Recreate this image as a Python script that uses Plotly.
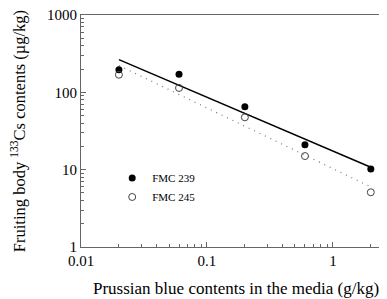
import numpy as np
import plotly.graph_objects as go

pb_contents = [0.02, 0.06, 0.2, 0.6, 2.0]
fmc239 = [196, 171, 65, 21, 10.2]
fmc245 = [169, 114, 47.5, 15, 5.1]
x_ticks = [0.01, 0.1, 1]
x_tick_labels = ["0.01", "0.1", "1"]
y_ticks = [1, 10, 100, 1000]
y_tick_labels = ["1", "10", "100", "1000"]
x_title = "Prussian blue contents in the media (g/kg)"
y_title = "Fruiting body <sup>133</sup>Cs contents (µg/kg)"

FONT = "Liberation Serif, Times New Roman, serif"


def fit_line(x, y):
    lx, ly = np.log10(x), np.log10(y)
    k, b = np.polyfit(lx, ly, 1)
    xe = np.array([min(x), max(x)])
    return xe, 10 ** (k * np.log10(xe) + b)


def minor_vals(decades, upper):
    return [m * d for d in decades for m in range(2, 10) if m * d <= upper]


fig = go.Figure()
xl, yl = fit_line(pb_contents, fmc239)
fig.add_trace(go.Scatter(x=xl, y=yl, mode="lines", line=dict(color="black", width=1.5),
                         showlegend=False, hoverinfo="skip"))
xl2, yl2 = fit_line(pb_contents, fmc245)
fig.add_trace(go.Scatter(x=xl2, y=yl2, mode="lines", line=dict(color="#777", width=1.2, dash="1px,5px"),
                         showlegend=False, hoverinfo="skip"))
fig.add_trace(go.Scatter(x=pb_contents, y=fmc239, mode="markers", name="FMC 239",
                         marker=dict(symbol="circle", size=7, color="black")))
fig.add_trace(go.Scatter(x=pb_contents, y=fmc245, mode="markers", name="FMC 245",
                         marker=dict(symbol="circle-open", size=7, color="#444", line=dict(width=1))))

axis_common = dict(
    type="log", showgrid=False, zeroline=False, showline=True, linecolor="#666", linewidth=1,
    mirror=True, ticks="inside", ticklen=5, tickcolor="#666", ticklabeloverflow="allow",
    tickfont=dict(family=FONT, size=15, color="black"), automargin=False,
)

fig.update_xaxes(**axis_common, range=[-2, np.log10(3)], tickvals=x_ticks, ticktext=x_tick_labels,
                 minor=dict(ticks="inside", ticklen=3, tickcolor="#666", showgrid=False,
                            tickvals=minor_vals([0.01, 0.1, 1], 3)))
fig.update_yaxes(**axis_common, range=[0, 3.0001], tickvals=y_ticks, ticktext=y_tick_labels,
                 minor=dict(ticks="inside", ticklen=3, tickcolor="#666", showgrid=False,
                            tickvals=minor_vals([1, 10, 100], 1000)),
                 title=dict(text=y_title,
                            font=dict(family=FONT, size=16.5, color="black"), standoff=24))

fig.add_annotation(text=x_title, xref="paper", yref="paper", x=0.497, y=-0.18,
                   xanchor="center", yanchor="middle", showarrow=False,
                   font=dict(family=FONT, size=17, color="black"))

fig.update_layout(
    width=387, height=299,
    margin=dict(l=73, r=2, t=7, b=60),
    paper_bgcolor="white", plot_bgcolor="white",
    legend=dict(x=0.1, y=0.36, xanchor="left", yanchor="top", bgcolor="rgba(0,0,0,0)",
                font=dict(family=FONT, size=11, color="black"), itemwidth=30, tracegroupgap=0),
)

fig.write_html("out.html")
